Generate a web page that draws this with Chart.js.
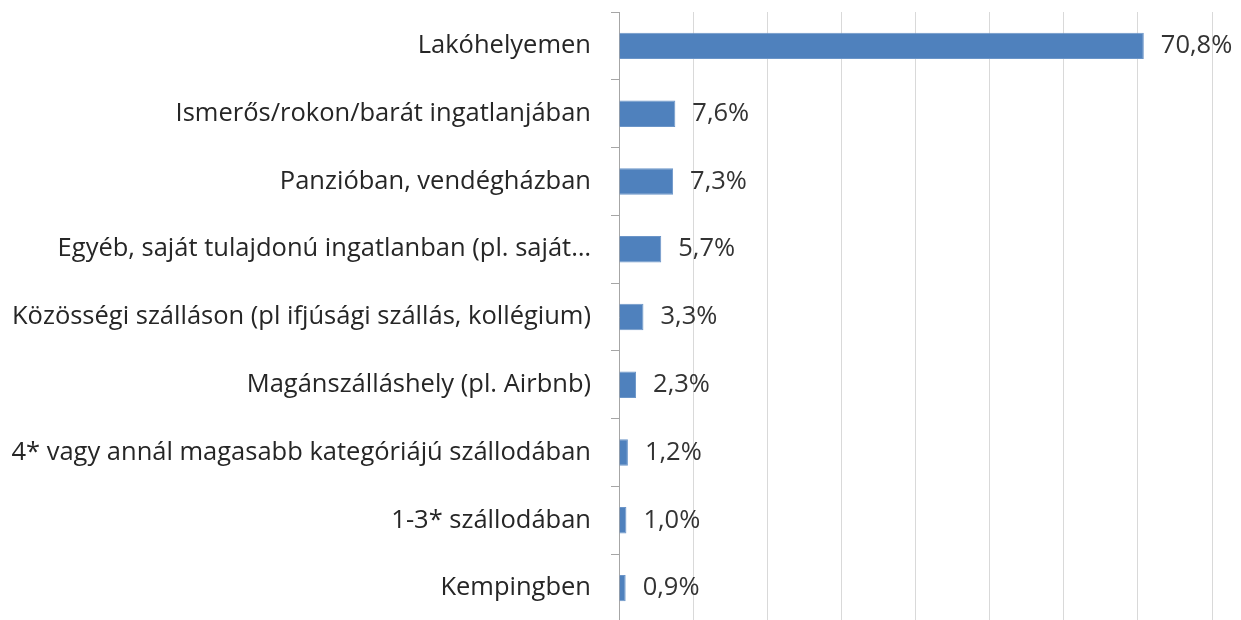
<!DOCTYPE html>
<html>
<head>
<meta charset="utf-8">
<script src="https://cdn.jsdelivr.net/npm/chart.js@4"></script>
<style>
  html, body { margin: 0; padding: 0; background: #fff; overflow: hidden; }
  #wrap { width: 1241px; height: 624px; }
</style>
</head>
<body>
<div id="wrap"><canvas id="chart" width="1241" height="624"></canvas></div>
<script>
const categories = [
  "Lakóhelyemen",
  "Ismerős/rokon/barát ingatlanjában",
  "Panzióban, vendégházban",
  "Egyéb, saját tulajdonú ingatlanban (pl. saját…",
  "Közösségi szálláson (pl ifjúsági szállás, kollégium)",
  "Magánszálláshely (pl. Airbnb)",
  "4* vagy annál magasabb kategóriájú szállodában",
  "1-3* szállodában",
  "Kempingben"
];
const values = [70.8, 7.6, 7.3, 5.7, 3.3, 2.3, 1.2, 1.0, 0.9];

const FONT = "'Open Sans'";
const FONT_SIZE = 25.5;

// value labels next to the bars
const valueLabels = {
  id: "valueLabels",
  afterDatasetsDraw(chart) {
    const ctx = chart.ctx;
    const meta = chart.getDatasetMeta(0);
    ctx.save();
    ctx.font = FONT_SIZE + "px " + FONT;
    ctx.fillStyle = "#333333";
    ctx.textAlign = "left";
    ctx.textBaseline = "middle";
    meta.data.forEach((bar, i) => {
      const txt = values[i].toFixed(1).replace(".", ",") + "%";
      ctx.fillText(txt, bar.x + 17, bar.y);
    });
    ctx.restore();
  }
};

const ctx = document.getElementById("chart").getContext("2d");

new Chart(ctx, {
  type: "bar",
  data: {
    labels: categories,
    datasets: [
      {
        data: values,
        backgroundColor: "#4f81bd",
        borderColor: "#6b95c8",
        borderWidth: 1,
        categoryPercentage: 1,
        barPercentage: 0.39
      }
    ]
  },
  options: {
    indexAxis: "y",
    responsive: false,
    animation: false,
    layout: { padding: { top: 12, right: 29, bottom: 2, left: 0 } },
    plugins: {
      legend: { display: false },
      tooltip: { enabled: false }
    },
    scales: {
      x: {
        min: 0,
        max: 80,
        ticks: { display: false, stepSize: 10 },
        grid: { color: "#d9d9d9", lineWidth: 1, drawTicks: false },
        border: { display: false },
        afterFit(scale) { scale.height = 0; }
      },
      y: {
        offset: true,
        grid: {
          offset: true,
          drawOnChartArea: false,
          drawTicks: true,
          tickLength: 8,
          color: "#a6a6a6"
        },
        border: { display: true, color: "#a6a6a6", width: 1 },
        ticks: {
          color: "#262626",
          font: { family: FONT, size: FONT_SIZE },
          padding: 20,
          autoSkip: false
        },
        afterFit(scale) {
          scale.width = 619;
          scale.paddingTop = 0;
          scale.paddingBottom = 0;
        }
      }
    }
  },
  plugins: [valueLabels]
});
</script>
</body>
</html>
